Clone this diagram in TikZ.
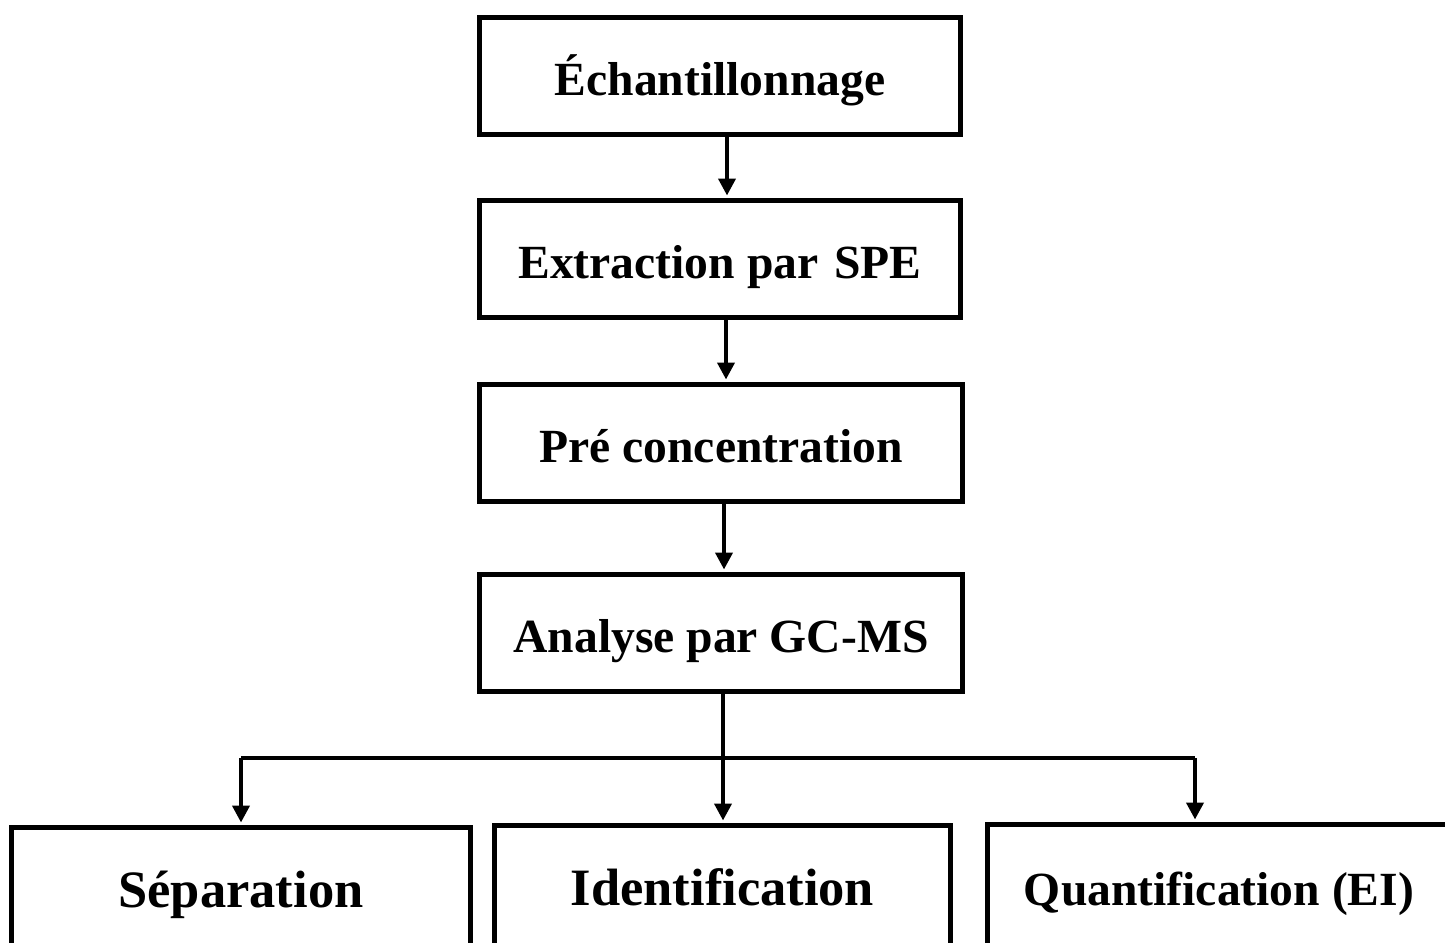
\documentclass[tikz,border=0pt]{standalone}
\usepackage{fontspec}
\setmainfont{Liberation Serif}
\usetikzlibrary{arrows.meta}
\begin{document}
\begin{tikzpicture}[x=1pt,y=-1pt,
  stepbox/.style={draw=black, line width=5pt, fill=white, inner sep=0pt,
    text height=40pt, text depth=2pt, align=center,
    font=\fontsize{47.6}{57}\selectfont\bfseries},
  bigtext/.style={font=\fontsize{52.5}{63}\selectfont\bfseries},
  conn/.style={draw=black, line width=4pt},
  arr/.style={conn, -{Triangle[width=17pt,length=17pt]}, shorten >=2.5pt}]
\useasboundingbox (0,0) rectangle (1445,942);
\clip (0,0) rectangle (1445,942);
\fill[white] (0,0) rectangle (1445,942);

\node[stepbox, minimum width=481pt, minimum height=117pt] (ech) at (720,76) {Échantillonnage};
\node[stepbox, minimum width=481pt, minimum height=117pt] (ext) at (720,259) {Extraction par\hspace{4pt} SPE};
\node[stepbox, minimum width=483pt, minimum height=117pt] (pre) at (721,443) {Pré concentration};
\node[stepbox, minimum width=483pt, minimum height=117pt] (ana) at (721,633) {Analyse par GC-MS};

\node[stepbox, bigtext, minimum width=459pt, minimum height=121pt] (sep) at (241,888) {Séparation};
\node[stepbox, bigtext, minimum width=456pt, minimum height=121pt] (ide) at (722.5,886) {Identification};
\node[stepbox, minimum width=463pt, minimum height=123pt] (qua) at (1219,886) {Quantification (EI)};

\coordinate (a1) at (727,0);
\coordinate (a2) at (726,0);
\coordinate (a3) at (724,0);
\draw[arr] (ech.south -| a1) -- (ext.north -| a1);
\draw[arr] (ext.south -| a2) -- (pre.north -| a2);
\draw[arr] (pre.south -| a3) -- (ana.north -| a3);

\coordinate (j) at (723,758);
\coordinate (jl) at (241,758);
\coordinate (jr) at (1195,758);
\draw[conn] (j |- ana.south) -- (j);
\draw[conn] (jl) -- (jr);
\draw[arr] (j) -- (j |- ide.north);
\draw[arr] (jl) -- (jl |- sep.north);
\draw[arr] (jr) -- (jr |- qua.north);
\end{tikzpicture}
\end{document}
